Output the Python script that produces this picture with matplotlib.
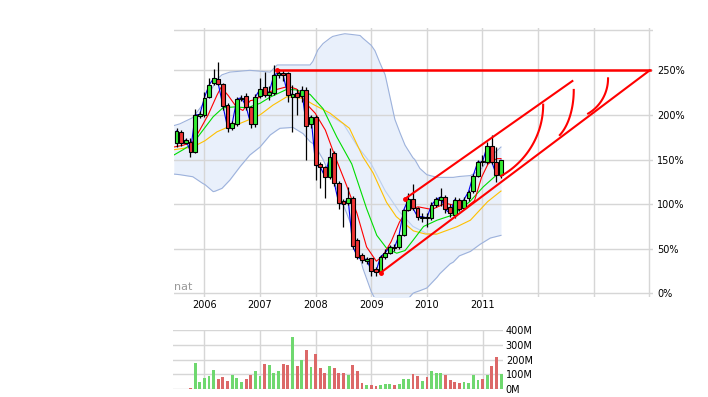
import numpy as np
import matplotlib
matplotlib.use("Agg")
import matplotlib.pyplot as plt

# ---------------- data (monthly, Jul 2005 .. May 2011), values in % ----------------
first_month = (2005, 7)
opens = [169, 180.5, 169, 170, 158.7, 199, 199.6, 220.4, 236, 240, 234.3, 211, 185.7, 189.5, 218, 221.2,
         208.5, 189.8, 221.2, 231, 222.3, 224.9, 244.7, 247, 246.6, 219.7, 224.9, 221.2, 227.9, 189.8,
         198, 144.6, 141.9, 130.7, 157, 124.2, 103, 100.9, 106.5, 59.8, 43, 36, 39.2, 26.9, 24.2, 40.5,
         45.5, 52.5, 51.6, 65.4, 93.4, 105.4, 95.3, 85, 86, 84, 99, 105, 108, 97, 88, 105, 96, 106.5,
         115, 132, 148.3, 147.5, 165, 147.5, 132.6]
highs = [185, 183, 174, 174, 207, 204, 226, 241.7, 252, 259, 235.4, 213, 193, 220, 222, 224.5,
         210, 223, 241, 248.4, 232, 256, 252, 250, 248, 233, 229, 232, 231, 200,
         200, 147, 143, 162.6, 160, 126, 106, 119.5, 109, 62, 45, 41, 40, 29, 43, 50,
         54, 55, 67, 95, 112, 123, 97, 90, 90, 102, 108, 118, 110, 100, 108, 107, 108, 116,
         134, 149, 155, 170, 177.5, 164.3, 150]
lows = [163.5, 165.5, 167, 153, 157, 196, 198, 218.6, 234, 233.5, 205.5, 181, 183, 188, 216, 205.5,
        185.3, 187, 219, 220, 217, 222, 241, 238, 215, 181, 200, 215, 149.4, 185,
        127, 117.7, 106.5, 128, 120, 95, 74.7, 99, 50, 38, 34, 33, 19.4, 19, 22, 38,
        44, 48, 50, 64, 92, 93, 82, 80, 74.7, 82, 97, 98, 90, 86, 84, 92, 94, 104,
        113, 130, 143, 145, 145, 125, 129]
closes = [182, 168, 172, 158.7, 200, 200.5, 219.3, 233.5, 241, 234.6, 210.3, 185.7, 190.6, 217.5, 219.5, 209.2,
          189.8, 220.4, 228.7, 222.3, 226, 244.7, 247.3, 244.5, 222.3, 223.4, 219.7, 227.9, 187.5, 198,
          143.8, 141.9, 130.7, 152.5, 124.2, 100.9, 100, 106.5, 53, 41, 37.3, 38.5, 25.3, 24.2, 41, 45.5,
          52, 51, 65.4, 93.4, 105.4, 95.3, 86, 86, 84.5, 99, 105.4, 108, 94, 89.7, 105, 94, 105, 114,
          132, 147.5, 147, 165, 147.5, 132.6, 149.4]

# volume (millions), Oct 2005 .. May 2011
vol_first_index = -3
volumes = [7, 176, 47, 75, 88, 129, 68, 81, 54, 95, 75, 50, 68, 95, 122, 88, 169, 163, 108, 122,
           169, 163, 352, 156, 196, 264, 149, 237, 142, 108, 156, 142, 108, 108, 95, 163, 122, 43,
           27, 27, 20, 27, 34, 34, 27, 34, 68, 68, 102, 88, 54, 81, 122, 108, 108, 95, 61, 47, 41,
           47, 41, 95, 61, 68, 95, 156, 217, 102]
vol_up = [0, 1, 1, 1, 1, 1, 0, 0, 0, 1, 1, 1, 0, 0, 1, 1, 0, 1, 1, 1,
          0, 0, 1, 0, 1, 0, 1, 0, 0, 0, 1, 0, 0, 0, 1, 0, 0, 0,
          1, 0, 0, 1, 1, 1, 0, 1, 1, 1, 0, 0, 1, 0, 1, 1, 1, 0, 0, 0, 0,
          1, 1, 1, 1, 0, 1, 0, 0, 1]

# moving averages & bands (month index 0 = Jan 2006)
ma_red_x = [-6.6, -4.6, -2.5, -1, 0.8, 2.7, 3.6, 5.1, 6.9, 8.3, 9.9, 11, 13.1, 15.2, 18.1, 19.9, 21.7, 23.9,
            26.1, 28.3, 30.6, 32.9, 35, 37.1, 38.5, 40.3, 42.1, 43.8, 46.1, 49.1, 52, 53.7, 56.4, 58.3,
            59.8, 61.2, 63.1, 64]
ma_red_y = [164, 166, 170, 183, 200, 222, 231, 222, 209, 205, 216, 217, 224, 228, 232, 229, 214, 202,
            183, 152, 122, 90, 52, 36, 42, 58, 80, 93, 97, 94, 101, 99, 96, 104, 130, 145, 151, 151]
ma_green_x = [-6.6, -4.6, -2.5, -0.3, 1.9, 4.0, 6.6, 9.2, 12, 14.2, 17.8, 19.9, 22.8, 25.6, 28.6, 31.8,
              35, 37.2, 39.4, 41.5, 43.3, 45.1, 47.3, 50.2, 53.7, 57.3, 60.2, 63.1, 64]
ma_green_y = [155, 161, 168, 183, 198, 208, 209, 208, 213, 220, 228.7, 228, 223, 207, 175, 145,
              95, 65, 50, 45, 48, 60, 75, 82, 88, 103, 119.5, 133, 138]
ma_orange_x = [-6.6, -2.5, 0.1, 2.7, 4.9, 7.7, 9.8, 12, 14.8, 17.8, 21.3, 23.4, 27.1, 31.3, 34.2, 36.4,
               39.3, 41.4, 45.1, 47.7, 50.2, 54.5, 57.4, 61.1, 64]
ma_orange_y = [161, 164, 171, 181, 186, 190.5, 195, 200, 211, 220.4, 218.6, 212, 202, 185, 153, 135,
               102, 86, 70, 66.5, 66.5, 74.7, 82, 102.7, 114.7]
mid_band_x = [26, 30, 33, 36, 39, 42, 45, 48, 50]
mid_band_y = [203, 190, 165, 145, 115, 92, 75, 67, 66]
band_x = [-6.6, -5.3, -2.5, -0.3, 0.1, 1.9, 2.3, 3.8, 5.5, 7.7, 9.8, 12, 14.2, 15.7, 16.3, 19.1, 21.3,
          22.8, 23.4, 24.5, 25.6, 27.1, 27.7, 29.3, 30.3, 32.1, 33.6, 34.2, 36, 36.8, 37.9, 39, 41.1,
          42.2, 43.3, 45, 45.4, 46.5, 48, 50.2, 50.8, 53, 53.7, 55, 57.4, 59.5, 61.7, 64]
band_upper = [188, 190, 197, 212, 215, 232, 238, 245, 248, 249, 250, 249, 248, 256, 256, 256, 256,
              256, 260, 273, 280, 286, 288, 290, 291, 290, 289, 286, 278, 272, 258, 245, 195,
              180, 166, 152, 150, 140, 133, 130, 130, 130, 130, 131, 132, 138, 153, 164]
band_lower = [133.7, 133, 130.7, 123, 122, 114, 114.5, 117.7, 127, 142, 155, 164, 177.5, 183, 185, 186, 179,
              170, 168, 160, 150, 133, 128, 108, 95, 71, 40, 28, 2, -6, -12, -15, -16,
              -15, -10, 0, 1, 3, 6, 18, 22, 33, 35, 42, 47, 55, 62, 65]

# drawing annotations (month index, %)
hline_level = 250
hline_from = 15.7
hline_to = 96.1
low_trend = ([38, 96.1], [23, 250])
up_trend = ([43.3, 79.4], [106, 238])
arc_start_m = [64.0, 76.7, 82.8]
arc_start_p = [131.5, 177.5, 201.5]
arc_end_m = [73.1, 79.7, 87.1]
arc_end_p = [211.5, 228, 241]

year_labels = ['2006', '2007', '2008', '2009', '2010', '2011']
pct_ticks = [0, 50, 100, 150, 200, 250]
vol_ticks = [0, 100, 200, 300, 400]

# ---------------- figure ----------------
plt.rcParams['font.family'] = ['DejaVu Sans']
W, H = 708, 397
fig = plt.figure(figsize=(W / 100, H / 100), dpi=100)
GRID = '#d6d6d6'

ax = fig.add_axes([174 / W, 1 - 297 / H, 479 / W, (297 - 28.3) / H])
ax.set_xlim(-6.56, 96.8)
ax.set_ylim(-4.1, 297.1)
for s in ax.spines.values():
    s.set_visible(False)

n = len(closes)
start_idx = (first_month[0] - 2006) * 12 + first_month[1] - 1
x = np.arange(n) + start_idx

# grid
year_pos = [12 * i for i in range(9)]
for yp in year_pos:
    ax.axvline(yp, color=GRID, lw=1, zorder=1)
for yv in pct_ticks:
    ax.axhline(yv, color=GRID, lw=1, zorder=1)
ax.axhline(295.5, color=GRID, lw=1, zorder=1)

# Bollinger band
ax.fill_between(band_x, band_lower, band_upper, color='#e9f0fb', zorder=0.5, lw=0)
ax.plot(band_x, band_upper, color='#9db2dc', lw=0.8, zorder=2)
ax.plot(band_x, band_lower, color='#9db2dc', lw=0.8, zorder=2)
ax.plot(mid_band_x, mid_band_y, color='#bcd0ee', lw=0.8, zorder=2)

# moving averages
ax.plot(ma_orange_x, ma_orange_y, color='#ffc000', lw=0.8, zorder=3)
ax.plot(ma_green_x, ma_green_y, color='#00dd00', lw=0.8, zorder=3)
ax.plot(ma_red_x, ma_red_y, color='#ff0000', lw=0.8, zorder=3)
ax.plot(x, closes, color='#0000ee', lw=0.8, zorder=3)

# candles
o = np.array(opens); c = np.array(closes)
up = c >= o
ax.vlines(x, lows, highs, color='black', lw=0.9, zorder=4)
bottoms = np.minimum(o, c)
heights = np.maximum(np.abs(c - o), 0.8)
ax.bar(x, heights, bottom=bottoms, width=0.82,
       color=np.where(up, '#33ee33', '#ee3333'), edgecolor='black', linewidth=0.8, zorder=5)

# annotations
RED = '#ff0000'
ax.plot([hline_from, hline_to], [hline_level, hline_level], color=RED, lw=1.8, zorder=6)
ax.plot(*low_trend, color=RED, lw=1.5, zorder=6)
ax.plot(*up_trend, color=RED, lw=1.5, zorder=6)
ax.plot([hline_from, low_trend[0][0], up_trend[0][0]], [hline_level, low_trend[1][0], up_trend[1][0]],
        'o', color=RED, ms=2.5, zorder=7)
th = np.linspace(np.pi / 3, 0, 50)
for xs, ys, xe, ye in zip(arc_start_m, arc_start_p, arc_end_m, arc_end_p):
    a = (xe - xs) / (1 - np.cos(np.pi / 3))
    b = (ye - ys) / np.sin(np.pi / 3)
    ax.plot(xe - a * (1 - np.cos(th)), ye - b * np.sin(th), color=RED, lw=1.5, zorder=6)

# ticks
ax.set_xticks(year_pos)
ax.set_xticklabels(year_labels + [''] * (len(year_pos) - len(year_labels)))
ax.yaxis.tick_right()
ax.set_yticks(pct_ticks)
ax.set_yticklabels([f'{v}%' for v in pct_ticks])
ax.tick_params(length=0, labelsize=7, colors='black')
ax.tick_params(axis='x', pad=2)
ax.tick_params(axis='y', pad=3)
ax.text(0.0, 0.018, 'nat', transform=ax.transAxes, color='#999999', fontsize=8,
        ha='left', va='bottom', zorder=8)

# ---------------- volume ----------------
av = fig.add_axes([173.3 / W, 1 - 389.3 / H, (503 - 173.3) / W, (389.3 - 330) / H])
av.set_xlim(-6.7, 64.4)
av.set_ylim(0, 400)
for s in av.spines.values():
    s.set_visible(False)
for yp in year_pos[:6]:
    av.axvline(yp, color=GRID, lw=1, zorder=1)
for yv in vol_ticks:
    av.axhline(yv, color=GRID, lw=1, zorder=1)
vx = np.arange(len(volumes)) + vol_first_index
av.bar(vx, volumes, width=0.62, color=['#6fd86f' if u else '#dc6868' for u in vol_up], zorder=3, lw=0)
av.set_xticks([])
av.yaxis.tick_right()
av.set_yticks(vol_ticks)
av.set_yticklabels([f'{v}M' for v in vol_ticks])
av.tick_params(length=0, labelsize=7, pad=2)

fig.savefig('out.png', dpi=100)
